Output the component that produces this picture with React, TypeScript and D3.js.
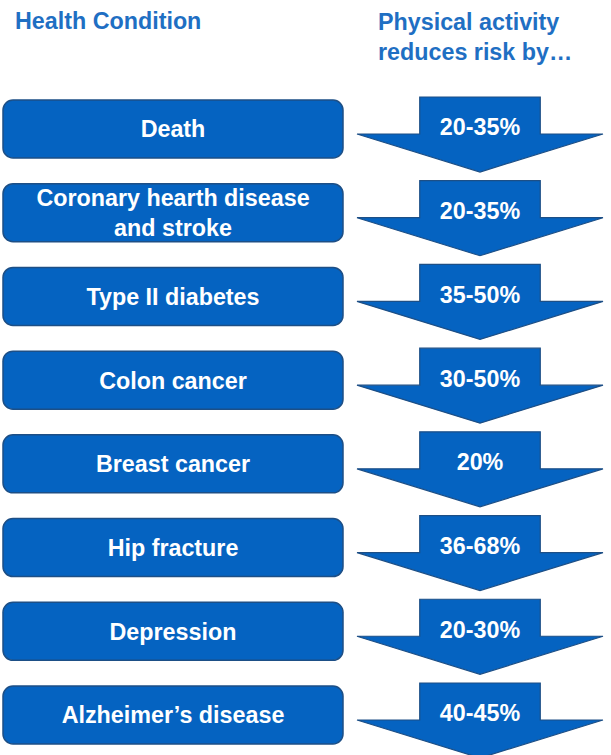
import React from "react";
import * as d3 from "d3";

const conditions: string[][] = [
  ["Death"],
  ["Coronary hearth disease", "and stroke"],
  ["Type II diabetes"],
  ["Colon cancer"],
  ["Breast cancer"],
  ["Hip fracture"],
  ["Depression"],
  ["Alzheimer\u2019s disease"],
];
const reductions: string[] = ["20-35%", "20-35%", "35-50%", "30-50%", "20%", "36-68%", "20-30%", "40-45%"];
const headerLeft = "Health Condition";
const headerRight = ["Physical activity", "reduces risk by\u2026"];

const W = 611;
const H = 755;
const FONT = "'Liberation Sans', Arial, Helvetica, sans-serif";
const FS = 23.3;
const BLUE = "#0563c1";
const EDGE = "#1d4f86";
const HEAD = "#1f6fc3";

export default function App() {
  const idx = d3.range(conditions.length);
  const y = d3.scaleBand<number>().domain(idx).range([100, 744]).paddingInner(0.307).paddingOuter(0);
  const x = d3.scaleLinear().domain([0, 1]).range([3, 343]);
  const ax = d3.scaleLinear().domain([-1, 1]).range([357, 603]);
  const stem = 0.49;

  const arrowPath = (top: number) => {
    const p = d3.path();
    const wingY = top + 37;
    const tipY = top + 75;
    p.moveTo(ax(-stem), top);
    p.lineTo(ax(stem), top);
    p.lineTo(ax(stem), wingY);
    p.lineTo(ax(1), wingY);
    p.lineTo(ax(0), tipY);
    p.lineTo(ax(-1), wingY);
    p.lineTo(ax(-stem), wingY);
    p.closePath();
    return p.toString();
  };

  return (
    <svg width={W} height={H} style={{ position: "absolute", left: 0, top: 0, display: "block" }}>
      <rect width={W} height={H} fill="#fff" />
      <text x={15} y={29} fontFamily={FONT} fontWeight="bold" fontSize={FS} fill={HEAD}>
        {headerLeft}
      </text>
      {headerRight.map((t, i) => (
        <text key={t} x={378} y={30 + i * 30} fontFamily={FONT} fontWeight="bold" fontSize={FS} fill={HEAD}>
          {t}
        </text>
      ))}
      {idx.map((i) => {
        const top = y(i) as number;
        const bw = y.bandwidth();
        const lines = conditions[i];
        const cy = top + bw / 2;
        const lh = 30;
        const aTop = top - 3;
        return (
          <g key={i}>
            <rect x={x(0)} y={top} width={x(1) - x(0)} height={bw} rx={10} ry={10} fill={BLUE} stroke={EDGE} strokeWidth={1.5} />
            {lines.map((l, j) => (
              <text
                key={j}
                x={(x(0) + x(1)) / 2}
                y={cy + (j - (lines.length - 1) / 2) * lh}
                dy="0.36em"
                textAnchor="middle"
                fontFamily={FONT}
                fontWeight="bold"
                fontSize={FS}
                fill="#fff"
              >
                {l}
              </text>
            ))}
            <path d={arrowPath(aTop)} fill={BLUE} stroke={EDGE} strokeWidth={1.2} />
            <text x={ax(0)} y={aTop + 30} dy="0.36em" textAnchor="middle" fontFamily={FONT} fontWeight="bold" fontSize={FS} fill="#fff">
              {reductions[i]}
            </text>
          </g>
        );
      })}
    </svg>
  );
}
